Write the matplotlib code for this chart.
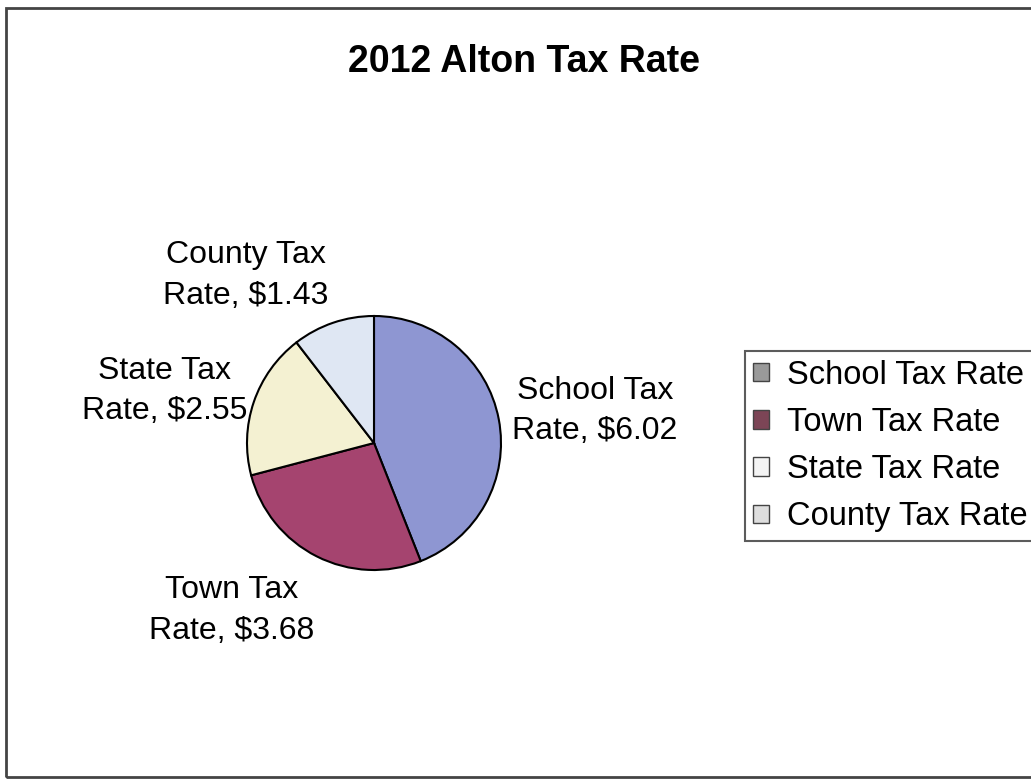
import matplotlib.pyplot as plt
from matplotlib.patches import Rectangle, Patch

# data
categories = ['School Tax Rate', 'Town Tax Rate', 'State Tax Rate', 'County Tax Rate']
short_names = ['School Tax', 'Town Tax', 'State Tax', 'County Tax']
rates = [6.02, 3.68, 2.55, 1.43]
colors = ['#8e96d2', '#a5446f', '#f4f1d2', '#dfe7f3']
legend_colors = ['#9a9a9a', '#7c4556', '#f4f4f4', '#dedede']
# label spots in pie-radius units
label_pos = [(1.74, 0.25), (-1.12, -1.32), (-1.65, 0.41), (-1.01, 1.32)]

plt.rcParams['font.family'] = ['Liberation Sans', 'DejaVu Sans']

fig = plt.figure(figsize=(10.31, 7.80), dpi=100)
fig.patch.set_facecolor('white')

ax = fig.add_axes([74 / 1031, 37 / 780, 600 / 1031, 600 / 780])
wedges, _ = ax.pie(rates, colors=colors, startangle=90, counterclock=False,
                   wedgeprops=dict(edgecolor='black', linewidth=1.5))
lim = 300 / 127
ax.set_xlim(-lim, lim)
ax.set_ylim(-lim, lim)
ax.axis('off')

for name, val, (x, y) in zip(short_names, rates, label_pos):
    ax.text(x, y, f'{name}\nRate, ${val:.2f}', ha='center', va='center',
            fontsize=23, linespacing=1.45)

fig.text(0.508, 0.921, '2012 Alton Tax Rate', ha='center', va='center',
         fontsize=27, fontweight='bold')

handles = [Patch(facecolor=c, edgecolor='#444444', linewidth=1) for c in legend_colors]
leg = fig.legend(handles, categories, loc='center left',
                 bbox_to_anchor=(745 / 1031, 334 / 780), fontsize=23.5,
                 frameon=True, fancybox=False, handlelength=0.5, handleheight=0.5,
                 handletextpad=0.55, labelspacing=0.5, borderpad=0.25,
                 borderaxespad=0)
leg.get_frame().set_edgecolor('#333333')
leg.get_frame().set_linewidth(1.5)

# chart border
fig.add_artist(Rectangle((6 / 1031, 3 / 780), 1.1, 769 / 780, transform=fig.transFigure,
                         fill=False, edgecolor='#444444', linewidth=2))

fig.savefig('out.png', dpi=100)
